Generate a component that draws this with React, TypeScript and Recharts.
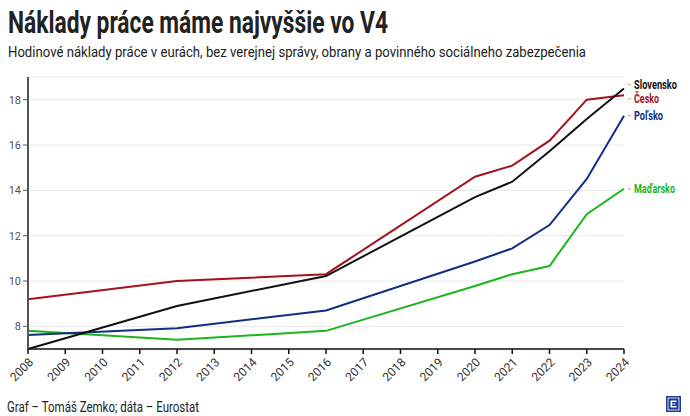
import { CartesianGrid, Line, LineChart, XAxis, YAxis } from "recharts";

const years = ["2008", "2009", "2010", "2011", "2012", "2013", "2014", "2015", "2016", "2017", "2018", "2019", "2020", "2021", "2022", "2023", "2024"];

// Eurostat: pred rokom 2020 len každé 4 roky
const slovensko = [7.0, null, null, null, 8.9, null, null, null, 10.22, null, null, null, 13.7, 14.38, 15.72, 17.15, 18.49];
const cesko = [9.2, null, null, null, 10.0, null, null, null, 10.3, null, null, null, 14.6, 15.09, 16.19, 18.0, 18.19];
const polsko = [7.62, null, null, null, 7.92, null, null, null, 8.7, null, null, null, 10.86, 11.44, 12.47, 14.5, 17.29];
const madarsko = [7.8, null, null, null, 7.41, null, null, null, 7.8, null, null, null, 9.78, 10.3, 10.66, 12.95, 14.07];

const yTicks = [8, 10, 12, 14, 16, 18];

const series = [
  { key: "madarsko", name: "Maďarsko", color: "#1db51d", dy: 0, width: 41 },
  { key: "polsko", name: "Poľsko", color: "#102f80", dy: 0, width: 29 },
  { key: "cesko", name: "Česko", color: "#a3121f", dy: 3.5, width: 25 },
  { key: "slovensko", name: "Slovensko", color: "#111111", dy: -4, width: 43 },
];

const data = years.map((year, i) => ({
  year,
  slovensko: slovensko[i],
  cesko: cesko[i],
  polsko: polsko[i],
  madarsko: madarsko[i],
}));

const font = "Roboto, 'Noto Sans', sans-serif";
const last = years.length - 1;

const XTick = ({ x, y, payload }: any) => (
  <g transform={`translate(${x + 3},${y + 4}) rotate(-45)`}>
    <text x={0} y={0} dy="0.35em" textAnchor="end" fill="#333" fontSize={12} fontFamily={font}>
      {payload.value}
    </text>
  </g>
);

const YTick = ({ x, y, payload }: any) => (
  <text x={x} y={y} dy={4} textAnchor="end" fill="#555" fontSize={11} fontFamily={font}>
    {payload.value}
  </text>
);

const endLabel = (s: (typeof series)[number]) => (props: any) => {
  const { x, y, index } = props;
  if (index !== last || x == null || y == null) return null;
  const ty = y + s.dy;
  return (
    <g>
      <line x1={x + 4} y1={ty} x2={x + 7} y2={ty} stroke="#aaa" strokeWidth={1} />
      <text
        x={x + 10}
        y={ty}
        dy={4}
        fill={s.color}
        fontSize={12}
        fontWeight={700}
        fontFamily={font}
        textLength={s.width}
        lengthAdjust="spacingAndGlyphs"
      >
        {s.name}
      </text>
    </g>
  );
};

export default function App() {
  return (
    <div style={{ position: "fixed", left: 0, top: 0, width: 690, height: 416, background: "#fff", overflow: "hidden" }}>
      <svg width={690} height={416} style={{ position: "absolute", left: 0, top: 0 }}>
        <text
          x={8}
          y={33}
          fill="#222"
          fontSize={32}
          fontWeight={700}
          fontFamily={font}
          textLength={380}
          lengthAdjust="spacingAndGlyphs"
        >
          Náklady práce máme najvyššie vo V4
        </text>
        <text
          x={8}
          y={57}
          fill="#222"
          fontSize={14}
          fontFamily={font}
          textLength={578}
          lengthAdjust="spacingAndGlyphs"
        >
          Hodinové náklady práce v eurách, bez verejnej správy, obrany a povinného sociálneho zabezpečenia
        </text>
        <text
          x={7}
          y={412}
          fill="#222"
          fontSize={14}
          fontFamily={font}
          textLength={192}
          lengthAdjust="spacingAndGlyphs"
        >
          Graf – Tomáš Zemko; dáta – Eurostat
        </text>
        <g transform="translate(666,396)">
          <rect x={0} y={0} width={15} height={16} fill="#1b3d8f" />
          <rect x={2} y={2} width={11} height={12} fill="none" stroke="#fff" strokeWidth={0.8} />
          <path d="M4.5 4.5 H10.5 V6 H6 V7.4 H9.5 V8.6 H6 V10 H10.5 V11.5 H4.5 Z" fill="#fff" />
        </g>
      </svg>
      <div style={{ position: "absolute", left: 0, top: 0 }}>
        <LineChart width={690} height={416} data={data} margin={{ top: 77, right: 66, bottom: 0, left: 0 }}>
          <CartesianGrid horizontal vertical={false} stroke="#e8e8e8" strokeWidth={1} />
          <XAxis
            dataKey="year"
            interval={0}
            height={67}
            stroke="#111"
            strokeWidth={1.5}
            tickSize={5}
            tickLine={{ stroke: "#111" }}
            tick={<XTick />}
          />
          <YAxis
            width={28}
            domain={[7, 19]}
            ticks={yTicks}
            interval={0}
            stroke="#555"
            strokeWidth={2}
            tickSize={5}
            tickLine={{ stroke: "#555", strokeWidth: 1 }}
            tick={<YTick />}
          />
          {series.map((s) => (
            <Line
              key={s.key}
              dataKey={s.key}
              type="linear"
              stroke={s.color}
              strokeWidth={2}
              dot={false}
              connectNulls
              isAnimationActive={false}
              label={endLabel(s)}
            />
          ))}
        </LineChart>
      </div>
    </div>
  );
}
